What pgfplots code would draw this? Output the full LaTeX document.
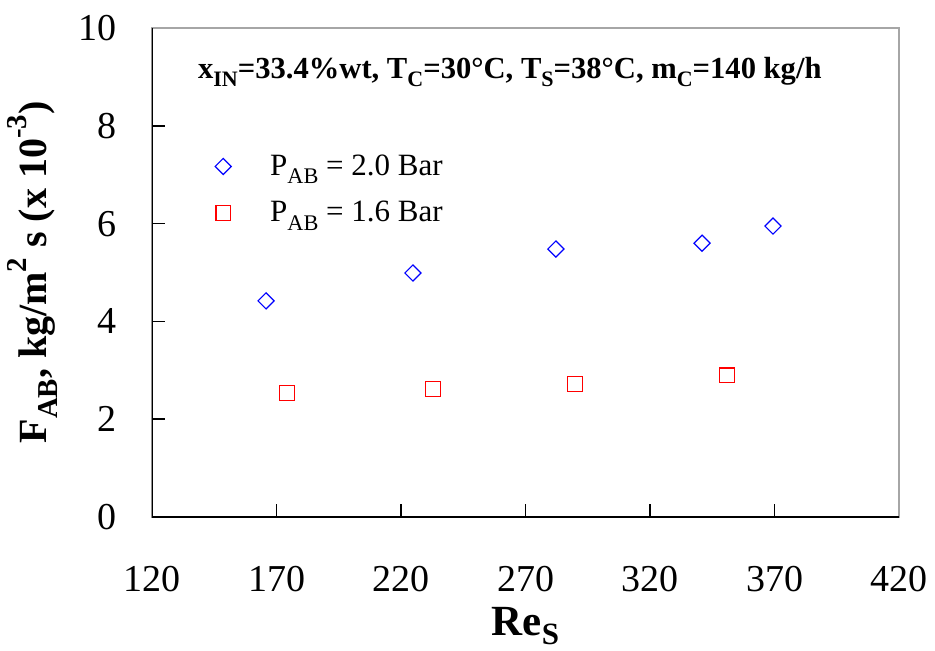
\documentclass[border=0pt]{standalone}
\usepackage{fontspec}
\setmainfont{Liberation Serif}
\usepackage{graphicx}
\usepackage{pgfplots}
\pgfplotsset{compat=1.18}
\newcommand\sub[1]{\raisebox{-0.28em}{\scalebox{0.72}{#1}}}
\newcommand\subx[1]{\raisebox{-0.2em}{\scalebox{0.72}{#1}}}
\newcommand\sups[1]{\raisebox{0.5em}{\scalebox{0.72}{#1}}}
\begin{document}
\begin{tikzpicture}
\begin{axis}[
  scale only axis,
  width=373.5pt, height=244.5pt,
  xmin=120, xmax=420, ymin=0, ymax=10,
  xtick={120,170,...,420}, ytick={0,2,...,10},
  xticklabels={120,170,220,270,320,370,420},
  yticklabels={0,2,4,6,8,10},
  tick align=inside, xtick pos=bottom, ytick pos=left,
  major tick length=6.5pt,
  ticklabel style={font=\fontsize{19}{22}\selectfont},
  xticklabel style={yshift=-21pt},
  yticklabel style={xshift=-14pt},
  axis line style={line width=1pt, gray!70},
  major tick style={line width=0.8pt, black},
  xlabel={\bfseries Re\subx{S}},
  xlabel style={font=\fontsize{21.5}{24}\selectfont, inner sep=0pt, at={(axis description cs:0.5,-0.243)}, anchor=base},
  ylabel={\bfseries F\sub{AB}, kg/m\sups{2} s (x 10\sups{-3})},
  ylabel style={font=\fontsize{20}{22}\selectfont, at={(axis description cs:-0.16,0.5)}, anchor=center, rotate=0},
  legend style={draw=none, fill=none, at={(axis description cs:0.084,0.75)}, anchor=north west,
    font=\fontsize{15.5}{18}\selectfont, row sep=7.5pt, inner sep=0pt, column sep=0pt},
  legend cell align=left,
  legend image code/.code={\draw[#1] plot coordinates {(0.15cm,0cm)}; \node[draw=none, fill=none, inner sep=0pt, minimum width=0.62cm, anchor=west] at (0,0) {};},
]
\addplot[only marks, mark=square, mark options={rotate=45}, mark size=2.85pt, blue, line width=0.6pt]
  coordinates {(165.8,4.42) (224.8,4.99) (282.2,5.48) (340.9,5.60) (369.4,5.95)};
\addlegendentry{\hspace{0.5em}P\sub{AB} = 2.0 Bar}
\addplot[only marks, mark=square, mark size=3.7pt, red, line width=0.7pt]
  coordinates {(174.2,2.54) (232.9,2.62) (289.9,2.72) (350.9,2.90)};
\addlegendentry{\hspace{0.5em}P\sub{AB} = 1.6 Bar}
\draw[black, line width=0.8pt] (rel axis cs:0,1) -- (rel axis cs:0,0) -- (rel axis cs:1,0);
\node[font=\bfseries\fontsize{15.3}{17}\selectfont] at (rel axis cs:0.479,0.91)
  {x\sub{IN}=33.4\%wt, T\sub{C}=30°C, T\sub{S}=38°C, m\sub{C}=140 kg/h};
\coordinate (bl) at (rel axis cs:0,0);
\coordinate (tr) at (rel axis cs:1,1);
\end{axis}
\pgfresetboundingbox
\path[use as bounding box] ([xshift=-76pt,yshift=-66.5pt]bl) rectangle ([xshift=18pt,yshift=14pt]tr);
\end{tikzpicture}
\end{document}
